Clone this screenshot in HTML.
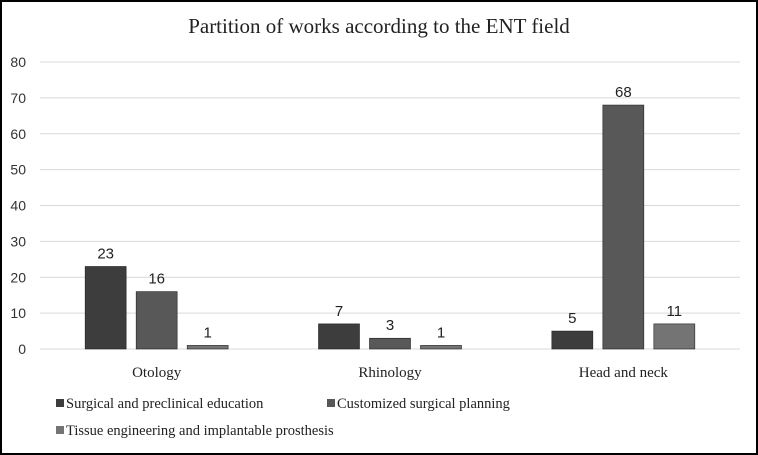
<!DOCTYPE html>
<html><head><meta charset="utf-8"><style>
body{margin:0;background:#fff}
svg{display:block}
</style></head><body>
<svg id="c" width="758" height="455" xmlns="http://www.w3.org/2000/svg">
<rect x="1" y="1" width="756" height="453" fill="#fff" stroke="#000" stroke-width="2"/>
<text x="379" y="33" text-anchor="middle" font-family="Liberation Serif, serif" font-size="21" fill="#222">Partition of works according to the ENT field</text>
<g id="grid"></g><g id="bars"></g>
</svg>
<script>
const categories=["Otology","Rhinology","Head and neck"];
const seriesNames=["Surgical and preclinical education","Customized surgical planning","Tissue engineering and implantable prosthesis"];
const s1=[23,7,5];
const s2=[16,3,68];
const s3=[1,1,7];
const s1Labels=["23","7","5"];
const s2Labels=["16","3","68"];
const s3Labels=["1","1","11"];
const ticks=[0,10,20,30,40,50,60,70,80];
const colors=["#3d3d3d","#585858","#747474"];
const NS="http://www.w3.org/2000/svg";
const svg=document.getElementById('c');
const x0=40,x1=740,y0=349,y80=62;
const y=v=>y0-(v/80)*(y0-y80);
const gw=(x1-x0)/categories.length;
function mk(t,a){const e=document.createElementNS(NS,t);for(const k in a)e.setAttribute(k,a[k]);return e;}
const grid=document.getElementById('grid');
ticks.forEach(t=>{
 const l=mk('line',{x1:x0,x2:x1,y1:y(t),y2:y(t),stroke:'#d9d9d9','stroke-width':1});
 
 
 grid.appendChild(l);
 const tx=mk('text',{x:26,y:y(t)+5,'text-anchor':'end','font-family':'Liberation Sans, sans-serif','font-size':14,fill:'#333'});
 tx.textContent=t;
 
 
 grid.appendChild(tx);
});
const bars=document.getElementById('bars');
const series=[s1,s2,s3],labels=[s1Labels,s2Labels,s3Labels];
categories.forEach((c,i)=>{
 const cx=x0+gw*(i+0.5);
 series.forEach((s,j)=>{
  const bx=cx+(j-1)*51-20.5;
  const r=mk('rect',{x:bx,y:y(s[i]),width:41,height:y0-y(s[i]),fill:colors[j],stroke:'#222','stroke-width':0.6});
  
  
  bars.appendChild(r);
  const t=mk('text',{x:bx+20.5,y:y(s[i])-8,'text-anchor':'middle','font-family':'Liberation Sans, sans-serif','font-size':15,fill:'#222'});
  t.textContent=labels[j][i];
  
  
  bars.appendChild(t);
 });
 const cl=mk('text',{x:cx,y:377,'text-anchor':'middle','font-family':'Liberation Serif, serif','font-size':15,fill:'#222'});
 cl.textContent=c;
 
 
 bars.appendChild(cl);
});
const lpos=[[56,408],[327,408],[56,435]];
seriesNames.forEach((n,j)=>{
 const r=mk('rect',{x:lpos[j][0],y:lpos[j][1]-9,width:8,height:8,fill:colors[j]});
 
 
 svg.appendChild(r);
 const t=mk('text',{x:lpos[j][0]+10,y:lpos[j][1],'font-family':'Liberation Serif, serif','font-size':14.5,fill:'#222'});
 t.textContent=n;
 
 
 svg.appendChild(t);
});
</script>
</body></html>
